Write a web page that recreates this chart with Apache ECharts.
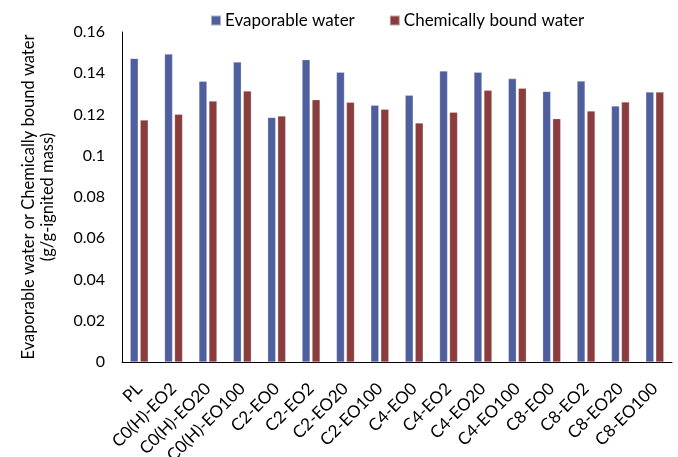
<!DOCTYPE html>
<html>
<head>
<meta charset="utf-8">
<script src="https://cdn.jsdelivr.net/npm/echarts@6/dist/echarts.min.js"></script>
<style>
  html, body { margin: 0; padding: 0; background: #fff; }
  #chart { width: 678px; height: 457px; }
</style>
</head>
<body>
<div id="chart"></div>
<script>
// Sample names along the x axis
const categories = [
  'PL', 'C0(H)-EO2', 'C0(H)-EO20', 'C0(H)-EO100',
  'C2-EO0', 'C2-EO2', 'C2-EO20', 'C2-EO100',
  'C4-EO0', 'C4-EO2', 'C4-EO20', 'C4-EO100',
  'C8-EO0', 'C8-EO2', 'C8-EO20', 'C8-EO100'
];

// Water contents in g per g of ignited mass
const evaporableWater = [
  0.1472, 0.1493, 0.1361, 0.1455,
  0.1186, 0.1466, 0.1405, 0.1245,
  0.1293, 0.1411, 0.1405, 0.1374,
  0.1312, 0.1362, 0.1241, 0.1309
];
const chemicallyBoundWater = [
  0.1173, 0.1201, 0.1265, 0.1314,
  0.1193, 0.1272, 0.1259, 0.1225,
  0.1159, 0.1211, 0.1317, 0.1327,
  0.1180, 0.1217, 0.1261, 0.1309
];

const seriesNames = ['Evaporable water', 'Chemically bound water'];
const yTitle = 'Evaporable water or Chemically bound water\n(g/g-ignited mass)';

const uiFont = 'Lato, "Open Sans", sans-serif';

const chart = echarts.init(document.getElementById('chart'));
chart.setOption({
  animation: false,
  color: ['#4F5F9E', '#8B3D3E'],
  legend: {
    top: 7,
    left: 205,
    itemWidth: 10,
    itemHeight: 10,
    itemGap: 34,
    icon: 'rect',
    textStyle: { fontFamily: uiFont, fontSize: 17, color: '#000', padding: [0, 0, 0, -1] },
    data: seriesNames
  },
  grid: {
    left: 122, right: 6, top: 32, bottom: 95,
    containLabel: false,
    outerBoundsMode: 'none'
  },
  xAxis: {
    type: 'category',
    data: categories,
    axisLine: { lineStyle: { color: '#000', width: 1 } },
    axisTick: { show: false },
    axisLabel: {
      rotate: 45,
      interval: 0,
      margin: 24,
      padding: [24, 0, 0, 0],
      fontFamily: uiFont,
      fontSize: 17,
      color: '#000'
    }
  },
  yAxis: {
    type: 'value',
    min: 0,
    max: 0.16,
    interval: 0.02,
    name: yTitle,
    nameLocation: 'middle',
    nameGap: 65,
    nameRotate: 90,
    nameTextStyle: {
      fontFamily: uiFont,
      fontSize: 16.5,
      lineHeight: 19,
      color: '#000'
    },
    axisLine: { show: true, lineStyle: { color: '#000', width: 1 } },
    axisTick: { show: false },
    splitLine: { show: false },
    axisLabel: {
      margin: 17,
      fontFamily: uiFont,
      fontSize: 16,
      color: '#000',
      formatter: v => String(parseFloat(v.toFixed(2)))
    }
  },
  series: [
    {
      name: seriesNames[0],
      type: 'bar',
      data: evaporableWater,
      barWidth: 8,
      barGap: '25%',
      itemStyle: { borderColor: 'rgba(255,255,255,0.5)', borderWidth: 0.5 }
    },
    {
      name: seriesNames[1],
      type: 'bar',
      data: chemicallyBoundWater,
      barWidth: 8,
      barGap: '25%',
      itemStyle: { borderColor: 'rgba(255,255,255,0.5)', borderWidth: 0.5 }
    }
  ]
});
</script>
</body>
</html>
